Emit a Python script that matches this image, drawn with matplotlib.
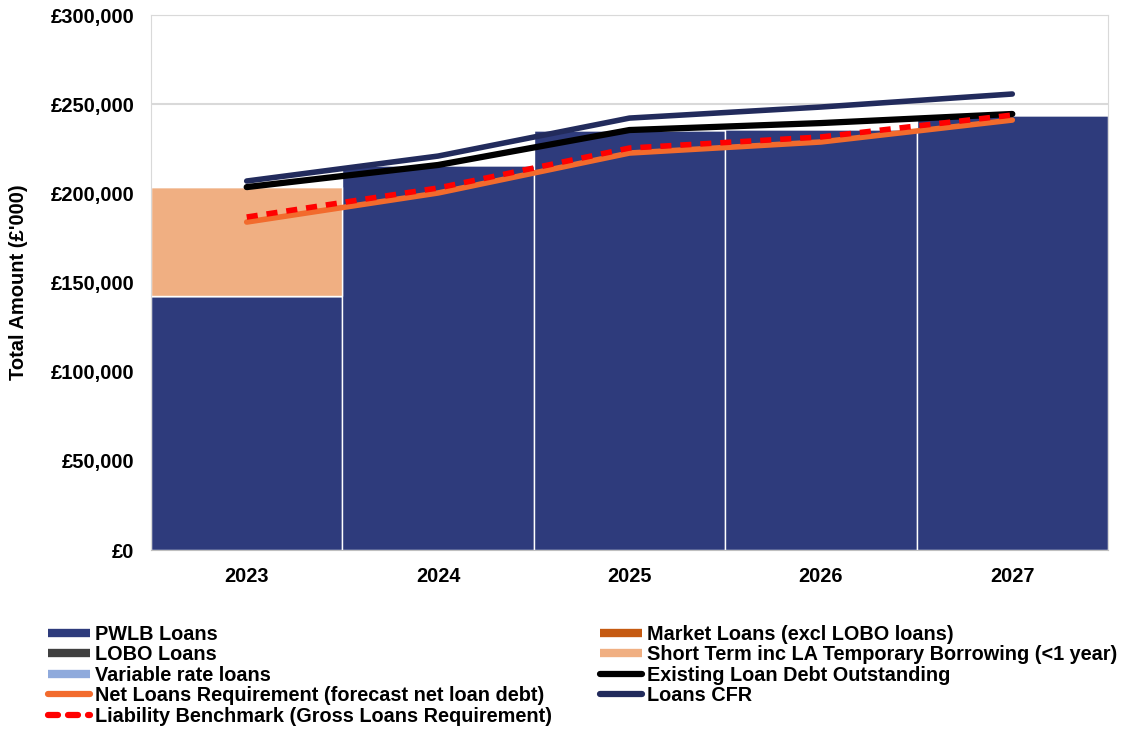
import matplotlib
matplotlib.use("Agg")
import matplotlib.pyplot as plt
from matplotlib.lines import Line2D
from matplotlib.ticker import FuncFormatter, MultipleLocator
from matplotlib import font_manager as fm

years = ["2023", "2024", "2025", "2026", "2027"]
pwlb = [142400, 215900, 235500, 235800, 243900]
market = [0, 0, 0, 0, 0]
lobo = [0, 0, 0, 0, 0]
short_term = [61100, 0, 0, 0, 0]
variable = [0, 0, 0, 0, 0]
existing = [203500, 215900, 235500, 239400, 244500]
net_req = [183900, 200200, 222600, 228800, 241100]
liability = [186700, 203000, 225400, 231600, 243900]
loans_cfr = [206900, 220900, 242200, 248400, 255700]

names = {f.name for f in fm.fontManager.ttflist}
base = "Liberation Sans" if "Liberation Sans" in names else "DejaVu Sans"
plt.rcParams['font.family'] = [base, 'DejaVu Sans']

c_pwlb = "#2E3B7C"
c_market = "#C55A11"
c_lobo = "#404040"
c_short = "#F0AF82"
c_var = "#8FAADC"
c_net = "#F26B2D"
c_liab = "#FF0000"
c_exist = "#000000"
c_cfr = "#222B5C"

fig = plt.figure(figsize=(11.24, 7.29), dpi=100)
ax = fig.add_axes([151/1124, 1 - 550/729, (1108-151)/1124, (550-15)/729])

x = list(range(len(years)))
bottom = [0]*5
for vals, col in [(pwlb, c_pwlb), (market, c_market), (lobo, c_lobo), (short_term, c_short), (variable, c_var)]:
    ax.bar(x, vals, width=1.0, bottom=bottom, color=col, edgecolor="white", linewidth=1, zorder=2)
    bottom = [b + v for b, v in zip(bottom, vals)]

ax.plot(x, net_req, color=c_net, lw=4, solid_capstyle="round", zorder=3)
ax.plot(x, loans_cfr, color=c_cfr, lw=4, solid_capstyle="round", zorder=4)
ax.plot(x, existing, color=c_exist, lw=4.5, solid_capstyle="round", zorder=5)
ax.plot(x, liability, color=c_liab, lw=4, linestyle=(0, (2, 1.6)), zorder=6)

ax.set_xlim(-0.5, 4.5)
ax.set_ylim(0, 300000)
ax.yaxis.set_major_locator(MultipleLocator(50000))
ax.yaxis.set_major_formatter(FuncFormatter(lambda v, p: "£{:,.0f}".format(v)))
ax.set_xticks(x)
ax.set_xticklabels(years)
ax.tick_params(axis="y", length=0, labelsize=14.5, pad=12)
ax.tick_params(axis="x", length=0, labelsize=14.3, pad=12)
for lab in ax.get_xticklabels() + ax.get_yticklabels():
    lab.set_fontweight("bold")
ax.grid(axis="y", color="#D9D9D9", lw=1.5, zorder=0)
ax.set_axisbelow(True)
for s in ax.spines.values():
    s.set_color("#D9D9D9")
ax.spines["bottom"].set_color("#BFBFBF")
ax.set_ylabel("Total Amount (£'000)", fontsize=14.5, fontweight="bold", labelpad=16)

def bh(col):
    return Line2D([0], [0], color=col, lw=6, solid_capstyle="butt")
def lh(col, ls="-"):
    if ls == "-":
        return Line2D([0], [0], color=col, lw=4.5, solid_capstyle="round")
    return Line2D([0], [0], color=col, lw=4.5, linestyle=(0, (1.6, 1.6)), dash_capstyle="round")

handles = [bh(c_pwlb), bh(c_lobo), bh(c_var), lh(c_net), lh(c_liab, "--"),
           bh(c_market), bh(c_short), lh(c_exist), lh(c_cfr)]
labels = ["PWLB Loans", "LOBO Loans", "Variable rate loans",
          "Net Loans Requirement (forecast net loan debt)",
          "Liability Benchmark (Gross Loans Requirement)",
          "Market Loans (excl LOBO loans)", "Short Term inc LA Temporary Borrowing (<1 year)",
          "Existing Loan Debt Outstanding", "Loans CFR"]
leg = fig.legend(handles, labels, ncol=2, loc="upper left", bbox_to_anchor=(48/1124, 1 - 625/729),
                 frameon=False, handlelength=2.1, handletextpad=0.25, columnspacing=2.45,
                 labelspacing=0.07, borderaxespad=0, borderpad=0,
                 prop={"family": base, "weight": "bold", "size": 14.3})

fig.savefig("out.png", dpi=100)
